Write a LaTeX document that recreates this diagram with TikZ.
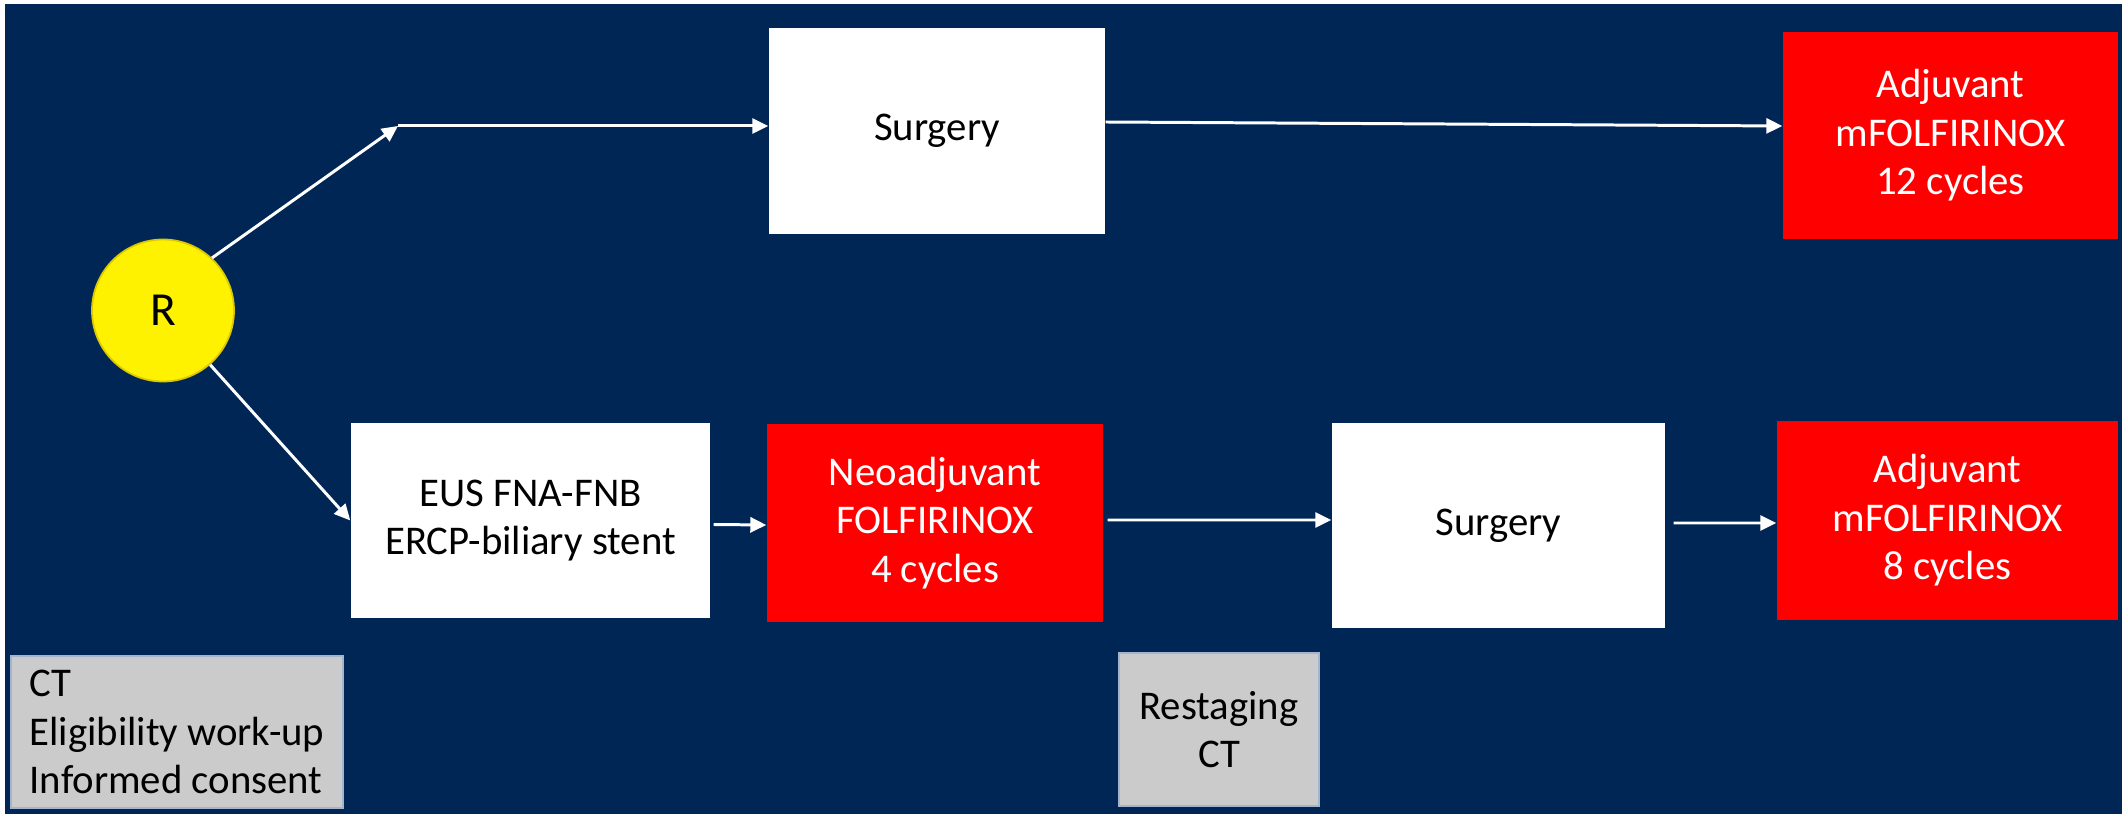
\documentclass[tikz,border=0pt]{standalone}
\usepackage{fontspec}
\setmainfont{Carlito}
\usetikzlibrary{arrows.meta}
\definecolor{navy}{HTML}{002656}
\definecolor{boxred}{HTML}{FF0000}
\definecolor{boxgray}{HTML}{CBCBCB}
\definecolor{grayline}{HTML}{A5B4CD}
\definecolor{ringyellow}{HTML}{DCC800}

\begin{document}
\begin{tikzpicture}[
    font=\fontsize{11.6pt}{13.8pt}\selectfont,
    whitebox/.style={fill=white, text=black, align=center, inner sep=0pt},
    redbox/.style={fill=boxred, text=white, align=center, inner sep=0pt},
    graybox/.style={fill=boxgray, draw=grayline, line width=0.6pt, text=black, inner sep=0pt},
    arr/.style={draw=white, line width=0.85pt, -{Triangle[length=1.6mm,width=1.5mm]}}
  ]
            % Background
            \useasboundingbox (0,0) rectangle (21.22,8.14);
            \fill[navy] (0.05,0) rectangle (21.22,8.10);

            % Randomisation
            \node[circle, fill=yellow, draw=ringyellow, line width=0.5pt, minimum size=1.42cm, inner sep=0pt, font=\fontsize{13.5pt}{15pt}\selectfont] (R) at (1.63,5.035) {R};

            % Upfront surgery arm
            \coordinate (bend) at (3.98,6.88);
            \node[whitebox, minimum width=3.36cm, minimum height=2.06cm] (surg1) at (9.37,6.83) {Surgery};
            \node[redbox, minimum width=3.35cm, minimum height=2.07cm] (adj1) at (19.505,6.785) {Adjuvant\\mFOLFIRINOX\\12 cycles};

            % Neoadjuvant arm
            \node[whitebox, minimum width=3.59cm, minimum height=1.95cm] (eus) at (5.305,2.935) {EUS FNA-FNB\\ERCP-biliary stent};
            \node[redbox, minimum width=3.36cm, minimum height=1.98cm] (neo) at (9.35,2.91) {Neoadjuvant\\FOLFIRINOX\\4 cycles};
            \node[whitebox, minimum width=3.33cm, minimum height=2.05cm] (surg2) at (14.985,2.885) {Surgery};
            \node[redbox, minimum width=3.41cm, minimum height=1.99cm] (adj2) at (19.475,2.935) {Adjuvant\\mFOLFIRINOX\\8 cycles};

            % Grey notes
            \node[graybox, align=left, minimum width=3.32cm, minimum height=1.52cm] (workup) at (1.77,0.82) {CT\\Eligibility work-up\\Informed consent};
            \node[graybox, align=center, minimum width=2.0cm, minimum height=1.53cm] (restage) at (12.19,0.845) {Restaging\\CT};

            % Arrows
            \draw[arr] (R.47) -- (bend);
            \draw[arr] (bend) -- (bend -| surg1.west);
            \draw[arr] ([yshift=0.9mm]surg1.east) -- ([yshift=0.95mm]adj1.west);
            \draw[arr] (R.-49) -- (eus.west);
            \draw[arr] ([xshift=0.3mm,yshift=-0.4mm]eus.east) -- ([yshift=-0.2mm]neo.west);
            \draw[arr] ([xshift=0.4mm,yshift=0.3mm]neo.east) -- ([yshift=0.55mm]surg2.west);
            \draw[arr] ([xshift=0.8mm,yshift=0.25mm]surg2.east) -- ([yshift=-0.25mm]adj2.west);
        \end{tikzpicture}
\end{document}
